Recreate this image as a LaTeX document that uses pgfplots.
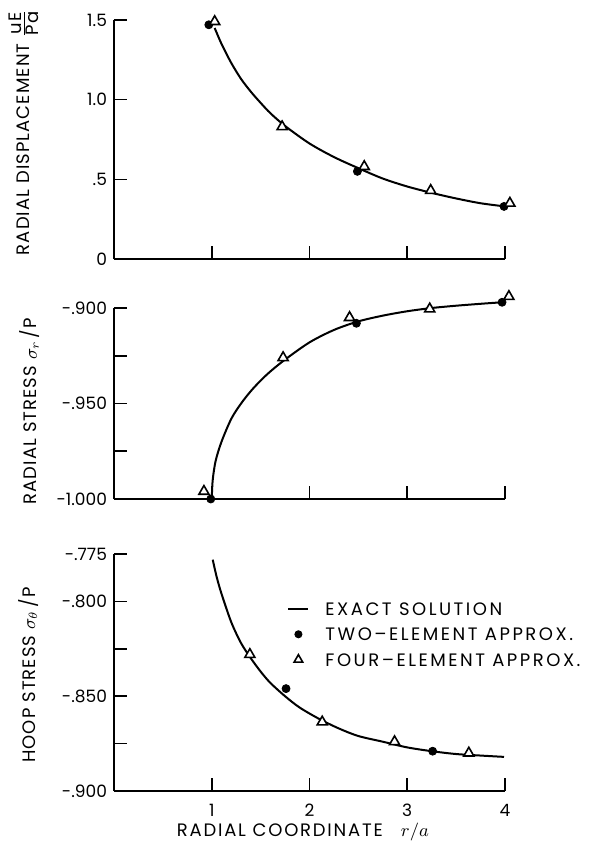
\documentclass[border=0pt]{standalone}
\usepackage{fontspec}
\setmainfont{Poppins}
\usepackage{pgfplots}
\pgfplotsset{compat=1.18}
\begin{document}
\begin{tikzpicture}[x=1pt,y=1pt]
\useasboundingbox (0,0) rectangle (295,-423);
\pgfplotsset{
  panel/.style={
    scale only axis, width=195.5pt,
    xmin=0, xmax=4, xtick={1,2,3,4}, xticklabels={,,,},
    axis x line=bottom, axis y line=left,
    axis line style={line width=0.8pt, -},
    tick align=inside, major tick length=6.5pt,
    every tick/.style={black, line width=0.8pt},
    tick label style={font=\fontsize{8.5}{9}\selectfont},
    ylabel style={font=\fontsize{9}{10}\selectfont\addfontfeature{LetterSpace=6}, anchor=base},
    clip=false,
    /pgf/number format/assume math mode=true,
  },
  curve/.style={black, line width=1pt, smooth, no marks},
  two/.style={black, only marks, mark=*, mark size=2pt},
  four/.style={black, only marks, mark=triangle*, mark size=2.9pt, mark options={fill=white, line width=0.8pt}},
}
% ---------- panel 1 ----------
\begin{axis}[panel, at={(57pt,-129.5pt)}, anchor=south west, height=119.5pt,
  ymin=0, ymax=1.5, ytick={0,0.5,1,1.5}, yticklabels={0,.5,1.0,1.5},
  ylabel={RADIAL DISPLACEMENT $\frac{\mbox{uE}}{\mbox{Pa}}$},
  ylabel style={at={(axis description cs:-0.217,0.531)}}]
\addplot[curve] coordinates {(1.03,1.45) (1.1,1.35) (1.2,1.23) (1.3,1.13) (1.4,1.05) (1.5,0.98) (1.6,0.915) (1.75,0.835) (2.0,0.725) (2.25,0.64) (2.5,0.57) (2.75,0.505) (3.0,0.455) (3.25,0.415) (3.5,0.38) (3.75,0.35) (4.0,0.33)};
\addplot[two] coordinates {(0.97,1.47) (2.49,0.55) (3.99,0.33)};
\addplot[four] coordinates {(1.03,1.49) (1.72,0.83) (2.56,0.58) (3.24,0.43) (4.05,0.35)};
\end{axis}
% ---------- panel 2 ----------
\begin{axis}[panel, at={(57pt,-249.5pt)}, anchor=south west, height=95.5pt,
  ymin=-1, ymax=-0.9, ytick={-1,-0.975,-0.95,-0.925,-0.9}, yticklabels={-1.000,,-.950,,-.900},
  ylabel={RADIAL STRESS $\sigma_r$\,/P},
  ylabel style={at={(axis description cs:-0.197,0.46)}}]
\addplot[curve] coordinates {(1.0,-1.0) (1.01,-0.99) (1.04,-0.98) (1.1,-0.970) (1.2,-0.958) (1.3,-0.950) (1.4,-0.9435) (1.5,-0.938) (1.6,-0.9332) (1.75,-0.927) (2.0,-0.918) (2.25,-0.9115) (2.5,-0.907) (2.75,-0.904) (3.0,-0.9017) (3.25,-0.900) (3.5,-0.8988) (3.75,-0.8978) (3.97,-0.897)};
\addplot[two] coordinates {(0.99,-1.0) (2.48,-0.908) (3.97,-0.897)};
\addplot[four] coordinates {(0.92,-0.996) (1.73,-0.926) (2.41,-0.905) (3.23,-0.9005) (4.04,-0.894)};
\end{axis}
% ---------- panel 3 ----------
\begin{axis}[panel, at={(57pt,-395.5pt)}, anchor=south west, height=118.5pt,
  ymin=-0.9, ymax=-0.775, ytick={-0.9,-0.875,-0.85,-0.825,-0.8,-0.775}, yticklabels={-.900,,-.850,,-.800,-.775},
  xticklabels={1,2,3,4},
  xticklabel style={yshift=-3pt},
  ylabel={HOOP STRESS $\sigma_\theta$\,/P},
  ylabel style={at={(axis description cs:-0.202,0.489)}},
  xlabel={RADIAL COORDINATE\quad $r/a$},
  xlabel style={at={(axis description cs:0.483,-0.173)}, anchor=center, font=\fontsize{9}{10}\selectfont\addfontfeature{LetterSpace=10}},
  legend style={at={(axis description cs:0.4425,0.806)}, anchor=north west, draw=none, fill=none,
    font=\fontsize{9}{10}\selectfont\addfontfeature{LetterSpace=14}, row sep=4.2pt, inner sep=0pt,
    nodes={inner sep=1pt, text height=6.5pt, text depth=0pt},
    /tikz/every odd column/.append style={column sep=7pt}},
  legend cell align=left]
\addplot[curve, legend image code/.code={\draw[black, line width=1pt] (0pt,0pt) -- (10pt,0pt);}] coordinates {(1.01,-0.778) (1.05,-0.787) (1.1,-0.796) (1.2,-0.811) (1.3,-0.822) (1.4,-0.830) (1.5,-0.837) (1.6,-0.843) (1.75,-0.850) (1.9,-0.856) (2.1,-0.862) (2.3,-0.867) (2.5,-0.871) (2.75,-0.874) (3.0,-0.877) (3.25,-0.879) (3.5,-0.8805) (3.75,-0.8813) (3.99,-0.882)};
\addlegendentry{EXACT SOLUTION}
\addplot[two, legend image code/.code={\fill[black] (5pt,0pt) circle (1.8pt);}] coordinates {(1.76,-0.846) (3.26,-0.879)};
\addlegendentry{TWO--ELEMENT APPROX.}
\addplot[four, legend image code/.code={\draw[black, line width=0.7pt] plot[only marks, mark=triangle, mark size=2.5pt] coordinates {(5pt,0pt)};}] coordinates {(1.39,-0.828) (2.13,-0.8636) (2.87,-0.874) (3.63,-0.880)};
\addlegendentry{FOUR--ELEMENT APPROX.}
\end{axis}
\end{tikzpicture}
\end{document}
